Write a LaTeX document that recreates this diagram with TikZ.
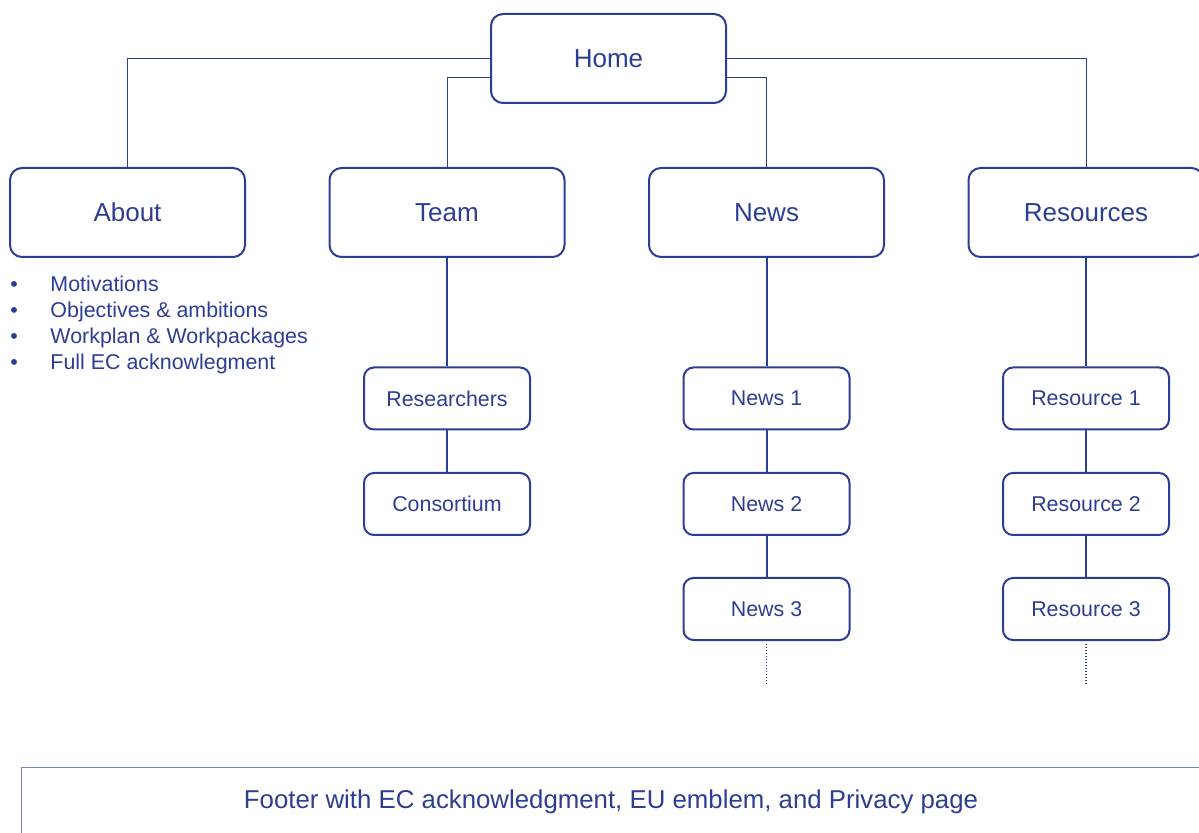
\documentclass[tikz,border=0pt]{standalone}
\usepackage{fontspec}
\setmainfont{Liberation Sans}
\definecolor{sitemap}{RGB}{44,62,148}
\definecolor{footline}{RGB}{112,130,194}
\tikzset{
    pagebox/.style={draw=sitemap, line width=1pt, rounded corners=6pt,
        minimum width=117.5pt, minimum height=44.5pt, text=sitemap,
        font=\fontsize{13}{15}\selectfont},
    subbox/.style={draw=sitemap, line width=1pt, rounded corners=5pt,
        minimum width=83pt, minimum height=31pt, text=sitemap,
        font=\fontsize{10.7}{12}\selectfont},
    link/.style={draw=sitemap, line width=0.5pt},
    sublink/.style={draw=sitemap, line width=1pt},
    morelink/.style={draw=sitemap, line width=0.6pt, dash pattern=on 0.6pt off 0.9pt},
}
\begin{document}
\begin{tikzpicture}[x=0.5pt, y=-0.5pt]
        \useasboundingbox (0,0) rectangle (1199,833);

        % top level
        \node[pagebox] (home) at (608.5, 58.5) {Home};
        \node[pagebox] (about) at (127.5, 212.5) {About};
        \node[pagebox] (team) at (447, 212.5) {Team};
        \node[pagebox] (news) at (766.5, 212.5) {News};
        \node[pagebox] (resources) at (1086, 212.5) {Resources};

        \draw[link] (home.west) -| (about.north);
        \draw[link] ([yshift=-9.5pt]home.west) -| (team.north);
        \draw[link] ([yshift=-9.5pt]home.east) -| (news.north);
        \draw[link] (home.east) -| (resources.north);

        % about
        \node[anchor=base west, inner sep=0pt, text=sitemap, font=\fontsize{10.7}{13}\selectfont] (aboutlist) at (10, 292)
            {\begin{tabular}[t]{@{}l@{\hspace{16.3pt}}l@{}}
                \textbullet & Motivations\\
                \textbullet & Objectives \& ambitions\\
                \textbullet & Workplan \& Workpackages\\
                \textbullet & Full EC acknowlegment
            \end{tabular}};

        % team
        \node[subbox] (researchers) at (447, 398.5) {Researchers};
        \node[subbox] (consortium) at (447, 504) {Consortium};
        \draw[sublink] (team.south) -- (researchers.north);
        \draw[sublink] (researchers.south) -- (consortium.north);

        % news
        \node[subbox] (news1) at (766.5, 398.5) {News 1};
        \node[subbox] (news2) at (766.5, 504) {News 2};
        \node[subbox] (news3) at (766.5, 609) {News 3};
        \coordinate (newsmore) at (766.5, 685);
        \draw[sublink] (news.south) -- (news1.north);
        \draw[sublink] (news1.south) -- (news2.north);
        \draw[sublink] (news2.south) -- (news3.north);
        \draw[morelink, shorten <=1.5pt] (news3.south) -- (newsmore);

        % resources
        \node[subbox] (resource1) at (1086, 398.5) {Resource 1};
        \node[subbox] (resource2) at (1086, 504) {Resource 2};
        \node[subbox] (resource3) at (1086, 609) {Resource 3};
        \coordinate (resourcemore) at (1086, 685);
        \draw[sublink] (resources.south) -- (resource1.north);
        \draw[sublink] (resource1.south) -- (resource2.north);
        \draw[sublink] (resource2.south) -- (resource3.north);
        \draw[morelink, shorten <=1.5pt] (resource3.south) -- (resourcemore);

        % footer
        \node[draw=footline, line width=0.5pt, minimum width=595pt, minimum height=35pt,
            text=sitemap, font=\fontsize{12.9}{15}\selectfont] (footer) at (616, 802)
            {\hspace*{-5pt}Footer with EC acknowledgment, EU emblem, and Privacy page};

    \end{tikzpicture}
\end{document}
